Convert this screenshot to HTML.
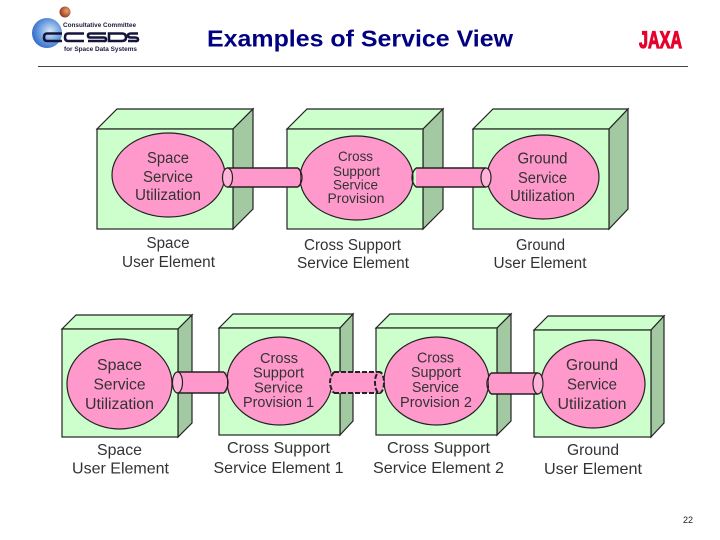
<!DOCTYPE html>
<html>
<head>
<meta charset="utf-8">
<style>
html,body{margin:0;padding:0;background:#fff;width:720px;height:540px;overflow:hidden}
svg{display:block;filter:blur(0.3px)}
text{font-family:"Liberation Sans",sans-serif}
.l{font-size:15.500px;fill:#333;text-anchor:middle}
.m{font-size:16px;fill:#333;text-anchor:middle}
.s{font-size:14px;fill:#333;text-anchor:middle}
.t{font-size:14.800px;fill:#333;text-anchor:middle}
.f{fill:#ccffcc;stroke:#222;stroke-width:1.2}
.d{fill:#a3c9a3;stroke:#222;stroke-width:1.2}
.e{fill:#ff99cc;stroke:#222;stroke-width:1.2}
.c{fill:#ff99cc;stroke:none}
.b{fill:none;stroke:#222;stroke-width:1.4}
.k{fill:none;stroke:#222;stroke-width:2;stroke-dasharray:5 2}
</style>
</head>
<body>
<svg width="720" height="540" viewBox="0 0 720 540" xmlns="http://www.w3.org/2000/svg">
<defs>
<radialGradient id="g" cx="0.6" cy="0.45" r="0.65"><stop offset="0" stop-color="#dbe9f8"/><stop offset="0.55" stop-color="#6c9ee0"/><stop offset="1" stop-color="#2a62c4"/></radialGradient>
<radialGradient id="o" cx="0.65" cy="0.4" r="0.7"><stop offset="0" stop-color="#e8a070"/><stop offset="1" stop-color="#8c2f14"/></radialGradient>
</defs>

<!-- logo -->
<circle cx="65" cy="12" r="5.500" fill="url(#o)"/>
<circle cx="47" cy="33" r="15" fill="url(#g)"/>
<text x="63" y="27" font-size="6.500" font-weight="bold" fill="#1a1a3a" textLength="73" lengthAdjust="spacingAndGlyphs">Consultative Committee</text>
<g fill="none" stroke="#15153c" stroke-width="2.600">
<path d="M62 33.500H47Q44 33.500 44 37.500Q44 41 47 41H62"/>
<path d="M84 33.500H68Q65 33.500 65 37.500Q65 41 68 41H84"/>
<path d="M106 33.500H90Q88 33.500 88 35.500T90 37.500H104Q106 37.500 106 39.500T104 41H88"/>
<path d="M109 33.500H122Q126 33.500 126 37.500Q126 41 122 41H109Z"/>
<path d="M138 33.500H131Q128 33.500 128 35.500T131 37.500H135Q138 37.500 138 39.500T135 41H128"/>
</g>
<text x="64" y="51" font-size="6.500" font-weight="bold" fill="#1a1a3a" textLength="73" lengthAdjust="spacingAndGlyphs">for Space Data Systems</text>

<!-- header -->
<text x="207" y="46.500" font-size="23.500" font-weight="bold" fill="#000080" textLength="306" lengthAdjust="spacingAndGlyphs">Examples of Service View</text>
<text x="639" y="48" font-size="24" font-weight="bold" fill="#e8002d" stroke="#e8002d" stroke-width="1.200" textLength="43" lengthAdjust="spacingAndGlyphs">JAXA</text>
<line x1="38" y1="66.500" x2="688" y2="66.500" stroke="#444" stroke-width="1"/>
<text x="683" y="523" font-size="9" fill="#222">22</text>

<!-- top row boxes -->
<g>
<polygon class="f" points="97,129 117,109 253,109 233,129"/>
<polygon class="d" points="233,129 253,109 253,209 233,229"/>
<rect class="f" x="97" y="129" width="136" height="100"/>
<polygon class="f" points="287,129 307,109 443,109 423,129"/>
<polygon class="d" points="423,129 443,109 443,209 423,229"/>
<rect class="f" x="287" y="129" width="136" height="100"/>
<polygon class="f" points="473,129 493,109 628,109 609,129"/>
<polygon class="d" points="609,129 628,109 628,209 609,229"/>
<rect class="f" x="473" y="129" width="136" height="100"/>
</g>
<ellipse class="e" cx="168.500" cy="175" rx="56.500" ry="42"/>
<ellipse class="e" cx="356.500" cy="178" rx="56.500" ry="42"/>
<ellipse class="e" cx="543" cy="177" rx="56" ry="42"/>

<!-- top connectors -->
<rect class="c" x="227" y="168" width="73" height="19"/>
<path class="b" d="M227 168H298M227 187H298"/>
<path class="b" d="M298 168Q302 172 302 177.500T298 187"/>
<ellipse cx="227.500" cy="177.500" rx="5" ry="9.500" fill="#ffb3d9" stroke="#222" stroke-width="1.200"/>
<rect class="c" x="416" y="168" width="70" height="19"/>
<path class="b" d="M416 168H486M416 187H486"/>
<path class="b" d="M416 168Q412 172 412 177.500T416 187"/>
<ellipse cx="486" cy="177.500" rx="5" ry="9.500" fill="#ffb3d9" stroke="#222" stroke-width="1.200"/>

<!-- top ellipse labels -->
<text class="l" x="168" y="163" textLength="42" lengthAdjust="spacingAndGlyphs">Space</text>
<text class="l" x="168" y="182" textLength="50" lengthAdjust="spacingAndGlyphs">Service</text>
<text class="l" x="168" y="200" textLength="66" lengthAdjust="spacingAndGlyphs">Utilization</text>
<text class="s" x="355.500" y="161" textLength="35" lengthAdjust="spacingAndGlyphs">Cross</text>
<text class="s" x="356.500" y="176" textLength="47" lengthAdjust="spacingAndGlyphs">Support</text>
<text class="s" x="355.500" y="189.500" textLength="45" lengthAdjust="spacingAndGlyphs">Service</text>
<text class="s" x="356" y="203" textLength="57" lengthAdjust="spacingAndGlyphs">Provision</text>
<text class="l" x="542.500" y="163.500" textLength="50" lengthAdjust="spacingAndGlyphs">Ground</text>
<text class="l" x="542.500" y="183" textLength="49" lengthAdjust="spacingAndGlyphs">Service</text>
<text class="l" x="542.500" y="201" textLength="65" lengthAdjust="spacingAndGlyphs">Utilization</text>

<!-- top captions -->
<text class="l" x="168" y="248" textLength="43" lengthAdjust="spacingAndGlyphs">Space</text>
<text class="l" x="168.500" y="267" textLength="93" lengthAdjust="spacingAndGlyphs">User Element</text>
<text class="l" x="352.500" y="250" textLength="97" lengthAdjust="spacingAndGlyphs">Cross Support</text>
<text class="l" x="353" y="268" textLength="112" lengthAdjust="spacingAndGlyphs">Service Element</text>
<text class="l" x="540.500" y="250" textLength="49" lengthAdjust="spacingAndGlyphs">Ground</text>
<text class="l" x="540" y="268" textLength="93" lengthAdjust="spacingAndGlyphs">User Element</text>

<!-- bottom boxes -->
<g>
<polygon class="f" points="62,329 76,315 192,315 178,329"/>
<polygon class="d" points="178,329 192,315 192,423 178,437"/>
<rect class="f" x="62" y="329" width="116" height="108"/>
<polygon class="f" points="219,328 233,314 353,314 340,328"/>
<polygon class="d" points="340,328 353,314 353,421 340,435"/>
<rect class="f" x="219" y="328" width="121" height="107"/>
<polygon class="f" points="376,328 390,314 511,314 497,328"/>
<polygon class="d" points="497,328 511,314 511,421 497,435"/>
<rect class="f" x="376" y="328" width="121" height="107"/>
<polygon class="f" points="534,330 548,316 664,316 651,330"/>
<polygon class="d" points="651,330 664,316 664,423 651,437"/>
<rect class="f" x="534" y="330" width="117" height="107"/>
</g>
<ellipse class="e" cx="119.500" cy="384" rx="52.500" ry="45"/>
<ellipse class="e" cx="279.500" cy="381" rx="52.500" ry="44"/>
<ellipse class="e" cx="436.500" cy="381" rx="52.500" ry="44"/>
<ellipse class="e" cx="593" cy="384" rx="52" ry="44"/>

<!-- bottom connectors -->
<rect class="c" x="177" y="372" width="50" height="21"/>
<path class="b" d="M177 372H224M177 393H224"/>
<path class="b" d="M224 372Q228 377 228 382.500T224 393"/>
<ellipse cx="177.500" cy="382.500" rx="5" ry="10.500" fill="#ffb3d9" stroke="#222" stroke-width="1.200"/>
<rect class="c" x="331" y="372" width="49" height="21"/>
<path class="k" d="M334 372H380M334 393H380"/>
<path class="k" d="M334 372Q330 377 330 382.500T334 393"/>
<ellipse cx="379.500" cy="382.500" rx="4.500" ry="10.500" fill="#ff99cc" stroke="#222" stroke-width="2" stroke-dasharray="5 2"/>
<rect class="c" x="489" y="373" width="49" height="21"/>
<path class="b" d="M491 373H538M491 394H538"/>
<path class="b" d="M491 373Q487 378 487 383.500T491 394"/>
<ellipse cx="538" cy="383.500" rx="5" ry="10.500" fill="#ffb3d9" stroke="#222" stroke-width="1.200"/>

<!-- bottom ellipse labels -->
<text class="m" x="119.500" y="370" textLength="45" lengthAdjust="spacingAndGlyphs">Space</text>
<text class="m" x="119.500" y="389.500" textLength="52" lengthAdjust="spacingAndGlyphs">Service</text>
<text class="m" x="119.500" y="409" textLength="69" lengthAdjust="spacingAndGlyphs">Utilization</text>
<text class="t" x="279" y="363" textLength="38" lengthAdjust="spacingAndGlyphs">Cross</text>
<text class="t" x="278.500" y="377.500" textLength="51" lengthAdjust="spacingAndGlyphs">Support</text>
<text class="t" x="278.500" y="392.500" textLength="49" lengthAdjust="spacingAndGlyphs">Service</text>
<text class="t" x="278.500" y="407" textLength="71" lengthAdjust="spacingAndGlyphs">Provision 1</text>
<text class="t" x="435.500" y="362.500" textLength="37" lengthAdjust="spacingAndGlyphs">Cross</text>
<text class="t" x="436" y="377" textLength="50" lengthAdjust="spacingAndGlyphs">Support</text>
<text class="t" x="435.500" y="392" textLength="47" lengthAdjust="spacingAndGlyphs">Service</text>
<text class="t" x="436" y="407" textLength="72" lengthAdjust="spacingAndGlyphs">Provision 2</text>
<text class="m" x="592" y="370" textLength="52" lengthAdjust="spacingAndGlyphs">Ground</text>
<text class="m" x="592" y="389.500" textLength="50" lengthAdjust="spacingAndGlyphs">Service</text>
<text class="m" x="592" y="409" textLength="69" lengthAdjust="spacingAndGlyphs">Utilization</text>

<!-- bottom captions -->
<text class="m" x="119.500" y="455" textLength="45" lengthAdjust="spacingAndGlyphs">Space</text>
<text class="m" x="120.500" y="473.500" textLength="97" lengthAdjust="spacingAndGlyphs">User Element</text>
<text class="m" x="278.500" y="453" textLength="103" lengthAdjust="spacingAndGlyphs">Cross Support</text>
<text class="m" x="278.500" y="473" textLength="130" lengthAdjust="spacingAndGlyphs">Service Element 1</text>
<text class="m" x="438.500" y="453" textLength="103" lengthAdjust="spacingAndGlyphs">Cross Support</text>
<text class="m" x="438.500" y="473" textLength="131" lengthAdjust="spacingAndGlyphs">Service Element 2</text>
<text class="m" x="593" y="455" textLength="52" lengthAdjust="spacingAndGlyphs">Ground</text>
<text class="m" x="593" y="474" textLength="98" lengthAdjust="spacingAndGlyphs">User Element</text>
</svg>
</body>
</html>
